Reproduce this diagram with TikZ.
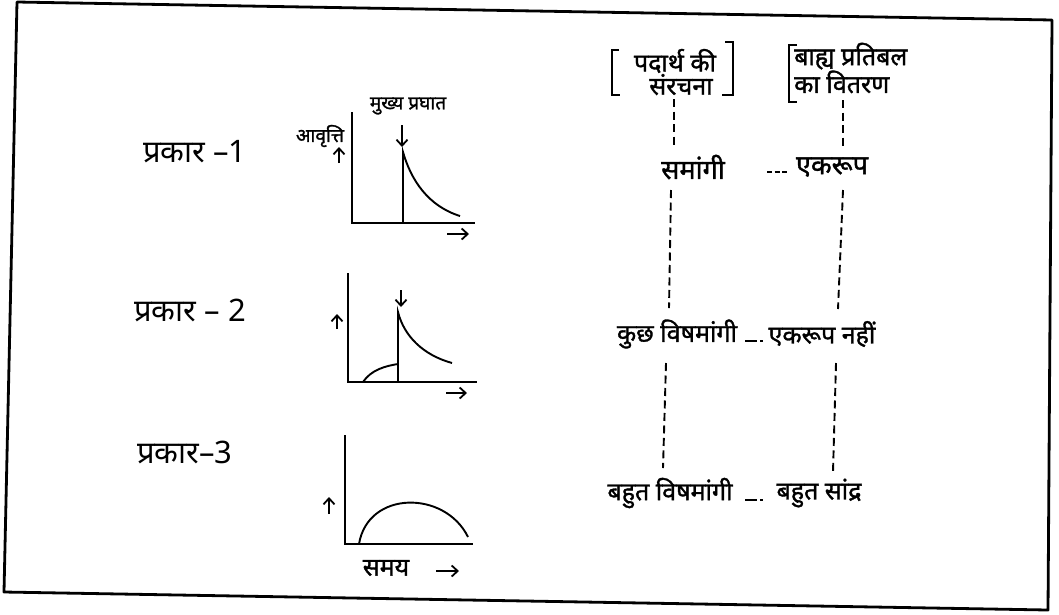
\documentclass[tikz,border=0pt]{standalone}
\usepackage{fontspec}
\newfontfamily\dev[Script=Devanagari]{Noto Sans}
\newfontfamily\devb[Script=Devanagari,FakeBold=1.3]{Noto Sans}
\usetikzlibrary{arrows.meta}
\begin{document}
\begin{tikzpicture}[x=1pt,y=-1pt,
  frame/.style={line width=2.8pt,line join=round},
  axis/.style={line width=2.2pt},
  crv/.style={line width=1.9pt},
  arr/.style={line width=1.8pt,-{Straight Barb[length=6pt,width=11pt]}},
  vdash/.style={line width=1.9pt,dash pattern=on 8pt off 4.5pt},
  brk/.style={line width=1.9pt},
  lbl/.style={font=\dev\fontsize{31}{35}\selectfont,inner sep=0pt},
  small/.style={font=\devb\fontsize{19}{21}\selectfont,inner sep=0pt},
  hw/.style={font=\devb\fontsize{25}{22}\selectfont,inner sep=0pt},
  hwb/.style={font=\devb\fontsize{27}{30}\selectfont,inner sep=0pt}]
\useasboundingbox (0,0) rectangle (1059,614);
\fill[white] (0,0) rectangle (1059,614);
% frame
\draw[frame] (17,2) -- (1052,20) -- (1048,610) -- (4,592) -- cycle;

% type labels
\node[lbl] (p1) at (195,152) {प्रकार –1};
\node[lbl] (p2) at (190,310) {प्रकार – 2};
\node[lbl] (p3) at (185,452) {प्रकार–3};

% graph 1
\draw[axis] (352,112) -- (352,223) -- (475,223);
\draw[crv] (403,223) -- (403,152) .. controls (411,180) and (428,206) .. (460,216);
\draw[arr] (402,125) -- (402,147);
\draw[arr] (339,163) -- (339,147);
\draw[arr] (447,234) -- (469,234);
\node[small] (mukhya) at (408,106) {मुख्य प्रघात};
\node[small] (avritti) at (320,136) {आवृत्ति};

% graph 2
\draw[axis] (348,273) -- (348,382) -- (477,382);
\draw[crv] (398,382) -- (398,312) .. controls (404,336) and (423,355) .. (452,363);
\draw[crv] (363,382) .. controls (371,370) and (385,366) .. (398,364);
\draw[arr] (401,290) -- (401,307);
\draw[arr] (337,329) -- (337,314);
\draw[arr] (446,393) -- (467,393);

% graph 3
\draw[axis] (345,435) -- (345,544) -- (473,544);
\draw[crv] (359,544) .. controls (368,490) and (445,490) .. (468,537);
\draw[arr] (329,514) -- (329,497);
\node[font=\devb\fontsize{25}{28}\selectfont,inner sep=0pt] (samay) at (386,568) {समय};
\draw[arr] (436,571) -- (459,571);

% right side
\node[hw,align=center] (struct) at (675,72) {पदार्थ की\\\hspace*{12pt}संरचना};
\node[hw,align=left,anchor=west] (stress) at (794,68) {बाह्य प्रतिबल\\का वितरण};
\draw[brk] (619,50) -- (612,50) -- (612,95) -- (620,95);
\draw[brk] (725,42) -- (733,42) -- (733,95) -- (722,95);
\draw[brk] (797,45) -- (789,45) -- (789,102) -- (797,102);

\node[hwb] (sam) at (693,167) {समांगी};
\node[hwb] (ekr) at (832,167) {एकरूप};
\node[hw] (kuch) at (677,334) {कुछ विषमांगी};
\node[hw] (nek) at (822,334) {एकरूप नहीं};
\node[hw] (bahut) at (670,493) {बहुत विषमांगी};
\node[hw] (sandra) at (819,493) {बहुत सांद्र};

\coordinate (s1) at (674,99);  \coordinate (s2) at (674,146);
\coordinate (s3) at (671,190); \coordinate (s4) at (669,308);
\coordinate (s5) at (666,363); \coordinate (s6) at (663,468);
\coordinate (e1) at (843,100); \coordinate (e2) at (843,146);
\coordinate (e3) at (843,190); \coordinate (e4) at (838,309);
\coordinate (e5) at (836,363); \coordinate (e6) at (833,472);
\draw[vdash] (s1) -- (s2);
\draw[vdash] (s3) -- (s4);
\draw[vdash] (s5) -- (s6);
\draw[vdash] (e1) -- (e2);
\draw[vdash] (e3) -- (e4);
\draw[vdash] (e5) -- (e6);

\coordinate (h1) at (767,172); \coordinate (h2) at (788,172);
\coordinate (h3) at (745,341); \coordinate (h4) at (764,341);
\coordinate (h5) at (745,500); \coordinate (h6) at (764,500);
\draw[line width=1.8pt,dash pattern=on 5pt off 2.5pt] (h1) -- (h2);
\draw[line width=1.8pt,dash pattern=on 12pt off 3pt on 2.5pt off 5pt] (h3) -- (h4);
\draw[line width=1.8pt,dash pattern=on 12pt off 3pt on 2.5pt off 5pt] (h5) -- (h6);
\end{tikzpicture}
\end{document}
